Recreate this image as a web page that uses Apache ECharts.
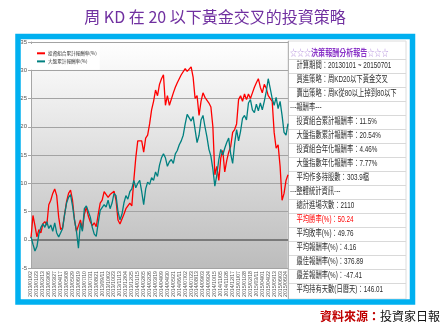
<!DOCTYPE html>
<html>
<head>
<meta charset="utf-8">
<script src="https://cdn.jsdelivr.net/npm/echarts@6/dist/echarts.min.js"></script>
<style>
html, body { margin: 0; padding: 0; background: #ffffff; }
#chart { width: 447px; height: 335px; }
</style>
</head>
<body>
<div id="chart"></div>
<script>
// Weekly sample dates (Wednesdays) of the back-test period
const dates = [
  '2013/01/02','2013/01/09','2013/01/16','2013/01/23','2013/01/30',
  '2013/02/06','2013/02/13','2013/02/20','2013/02/27',
  '2013/03/06','2013/03/13','2013/03/20','2013/03/27',
  '2013/04/03','2013/04/10','2013/04/17','2013/04/24',
  '2013/05/01','2013/05/08','2013/05/15','2013/05/22','2013/05/29',
  '2013/06/05','2013/06/12','2013/06/19','2013/06/26',
  '2013/07/03','2013/07/10','2013/07/17','2013/07/24','2013/07/31',
  '2013/08/07','2013/08/14','2013/08/21','2013/08/28',
  '2013/09/04','2013/09/11','2013/09/18','2013/09/25',
  '2013/10/02','2013/10/09','2013/10/16','2013/10/23','2013/10/30',
  '2013/11/06','2013/11/13','2013/11/20','2013/11/27',
  '2013/12/04','2013/12/11','2013/12/18','2013/12/25',
  '2014/01/02','2014/01/08','2014/01/15','2014/01/22','2014/01/29',
  '2014/02/05','2014/02/12','2014/02/19','2014/02/26',
  '2014/03/05','2014/03/12','2014/03/19','2014/03/26',
  '2014/04/02','2014/04/09','2014/04/16','2014/04/23','2014/04/30',
  '2014/05/07','2014/05/14','2014/05/21','2014/05/28',
  '2014/06/04','2014/06/11','2014/06/18','2014/06/25',
  '2014/07/02','2014/07/09','2014/07/16','2014/07/23','2014/07/30',
  '2014/08/06','2014/08/13','2014/08/20','2014/08/27',
  '2014/09/03','2014/09/10','2014/09/17','2014/09/24',
  '2014/10/01','2014/10/08','2014/10/15','2014/10/22','2014/10/29',
  '2014/11/05','2014/11/12','2014/11/19','2014/11/26',
  '2014/12/03','2014/12/10','2014/12/17','2014/12/24','2014/12/31',
  '2015/01/07','2015/01/14','2015/01/21','2015/01/28',
  '2015/02/04','2015/02/11','2015/02/18','2015/02/25',
  '2015/03/04','2015/03/11','2015/03/18','2015/03/25',
  '2015/04/01','2015/04/08','2015/04/15','2015/04/22','2015/04/29',
  '2015/05/06','2015/05/13','2015/05/20','2015/05/27',
  '2015/06/03','2015/06/10','2015/06/17','2015/06/24',
  '2015/07/01'
];

// Cumulative return of the strategy portfolio (%)
const portfolioReturn = [
  0.3, 4.3, 2.5, 0.5, 1.8, 1.2, 2.8, 3.2, 2.6, 6.2,
  7.0, 8.2, 9.0, 7.8, 4.0, 1.8, 2.2, 4.5, 6.8, 8.2,
  8.8, 7.0, 3.5, 1.5, 2.5, 3.5, 1.8, 4.5, 5.8, 4.2,
  3.2, 2.5, 3.0, 2.3, 4.5, 6.5, 7.0, 8.5, 8.8, 7.5,
  8.0, 7.8, 8.6, 7.0, 3.5, 2.8, 2.5, 4.5, 5.5, 5.8,
  6.5, 6.0, 10.5, 14.5, 17.5, 17.8, 17.5, 15.5, 18.0, 18.5,
  20.5, 23.0, 24.5, 26.5, 25.5, 27.5, 28.5, 29.2, 23.8, 25.5,
  23.8, 24.0, 26.0, 27.0, 27.8, 28.5, 29.2, 29.0, 30.3, 29.8,
  30.2, 30.6, 28.8, 25.0, 25.5, 22.0, 24.5, 26.0, 25.2, 25.5,
  24.2, 23.5, 20.0, 11.5, 13.0, 10.5, 14.5, 15.8, 12.0, 14.0,
  15.5, 16.5, 19.0, 19.5, 20.5, 24.8, 25.5, 24.5, 25.8, 24.8,
  25.8, 25.0, 26.0, 27.0, 27.8, 28.5, 27.0, 26.0, 27.5, 26.8,
  25.5, 25.8, 24.5, 19.0, 16.2, 16.8, 13.0, 7.0, 8.2, 10.5,
  11.5
];

// Cumulative return of the market index (%)
const marketReturn = [
  0.5, -0.8, -2.0, -1.2, 1.0, 2.2, 2.8, 2.2, 3.2, 2.0,
  2.6, 1.5, 3.0, 1.2, 0.5, 0.2, 2.0, 4.5, 6.5, 7.5,
  8.0, 6.0, 3.5, 1.5, -1.5, 3.0, 1.5, 5.5, 6.0, 5.0,
  4.0, 2.2, 1.0, 0.6, 3.0, 5.2, 5.5, 6.2, 5.8, 7.0,
  5.5, 6.5, 8.2, 7.8, 5.0, 3.5, 4.5, 6.5, 7.8, 7.2,
  8.5, 9.0, 10.5, 9.2, 10.0, 10.5, 8.5, 6.2, 9.0, 10.2,
  9.8, 11.0, 10.5, 12.0, 11.2, 13.2, 14.5, 15.2, 14.5, 13.0,
  13.8, 14.2, 13.5, 15.2, 15.8, 16.8, 17.5, 18.5, 20.5, 22.2,
  22.5, 21.0, 21.8, 19.5, 17.2, 18.5, 21.2, 22.0, 20.0, 18.2,
  16.0, 14.8, 12.5, 9.5, 11.5, 14.2, 16.0, 15.0, 16.2, 17.2,
  18.0, 15.2, 13.5, 17.0, 19.5, 17.5, 19.2, 21.5, 22.0, 21.2,
  24.2, 24.8, 23.0, 22.5, 24.0, 22.8, 24.2, 23.0, 24.5, 26.2,
  28.5, 26.8, 25.0, 23.8, 25.2, 23.2, 24.5, 22.0, 19.0, 18.5,
  20.54
];

// Value-axis range and step
const yMin = -5;
const yMax = 35;
const yStep = 5;

const seriesNames = ['投資組合累計報酬率(%)', '大盤累計報酬率(%)'];
const titleText = '周 KD 在 20 以下黃金交叉的投資策略';
const reportStars = '☆☆☆';
const reportHeading = '決策報酬分析報告';
const reportRows = [
  '計算期間：20130101 ~ 20150701',
  '買進策略：周KD20以下黃金交叉',
  '賣出策略：周K從80以上掉到80以下',
  '---報酬率---',
  '投資組合累計報酬率：11.5%',
  '大盤指數累計報酬率：20.54%',
  '投資組合年化報酬率：4.46%',
  '大盤指數年化報酬率：7.77%',
  '平均作多持股數：303.9檔',
  '---整體統計資訊---',
  '總計進場次數：2110',
  '平均勝率(%)：50.24',
  '平均敗率(%)：49.76',
  '平均報酬率(%)：4.16',
  '最佳報酬率(%)：376.89',
  '最差報酬率(%)：-47.41',
  '平均持有天數(日曆天)：146.01'
];
const sourceLabel = '資料來源：';
const sourceName = '投資家日報';

const chart = echarts.init(document.getElementById('chart'), null, { renderer: 'canvas' });

const panelFont = '"Liberation Sans", "Noto Sans CJK TC", sans-serif';
const cjkFont = '"Noto Sans CJK TC", sans-serif';

// Report panel: rows, separators and borders
const graphics = [];
graphics.push({
  type: 'rect', silent: true, z: 0,
  shape: { x: 288, y: 41, width: 118, height: 258 },
  style: { fill: '#ffffff', stroke: '#dcdcdc', lineWidth: 1 }
});
graphics.push({
  type: 'line', silent: true, z: 1,
  shape: { x1: 288.5, y1: 41, x2: 288.5, y2: 299 },
  style: { stroke: '#b5b5b5', lineWidth: 1 }
});
for (let k = 0; k <= reportRows.length - 1; k++) {
  const yy = Math.round(59 + 14 * k) + 0.5;
  graphics.push({
    type: 'line', silent: true, z: 1,
    shape: { x1: 289, y1: yy, x2: 406, y2: yy },
    style: { stroke: '#d9d9d9', lineWidth: 1 }
  });
}
graphics.push({
  type: 'text', silent: true, z: 2,
  x: 290, y: 52, scaleX: 0.74,
  style: {
    text: '{s|' + reportStars + '}{h|' + reportHeading + '}{s|' + reportStars + '}',
    verticalAlign: 'middle', align: 'left',
    rich: {
      s: { fill: '#b48fdc', fontSize: 9.5, fontFamily: cjkFont },
      h: { fill: '#8a34c8', fontSize: 9.5, fontFamily: cjkFont, fontWeight: 'bold' }
    }
  }
});
reportRows.forEach(function (row, i) {
  const isSection = row.indexOf('---') === 0;
  graphics.push({
    type: 'text', silent: true, z: 2,
    x: isSection ? 290 : 296.5, y: 66 + 14 * i, scaleX: 0.7,
    style: {
      text: row,
      fill: row.indexOf('平均勝率') === 0 ? '#ff0000' : '#2b2b2b',
      fontSize: 9, fontFamily: panelFont,
      verticalAlign: 'middle', align: 'left'
    }
  });
});

// Heading, outer frame and source note
graphics.push({
  type: 'text', silent: true, z: 2,
  x: 215, y: 17,
  style: {
    text: titleText, fill: '#7030a0', fontSize: 16, fontFamily: cjkFont,
    align: 'center', verticalAlign: 'middle'
  }
});
graphics.push({
  type: 'rect', silent: true, z: 3,
  shape: { x: 18, y: 36.5, width: 394.5, height: 265.5 },
  style: { fill: 'none', stroke: '#00b0f0', lineWidth: 5.5 }
});
graphics.push({
  type: 'text', silent: true, z: 2,
  x: 320, y: 316,
  style: {
    text: '{a|' + sourceLabel + '}{b|' + sourceName + '}',
    verticalAlign: 'middle', align: 'left',
    rich: {
      a: { fill: '#c00000', fontSize: 12, fontWeight: 'bold', fontFamily: cjkFont },
      b: { fill: '#111111', fontSize: 12, fontFamily: cjkFont }
    }
  }
});

const option = {
  animation: false,
  backgroundColor: '#ffffff',
  grid: {
    left: 31, top: 42, width: 257, height: 226,
    show: true, borderWidth: 0,
    backgroundColor: {
      type: 'linear', x: 0, y: 0, x2: 0, y2: 1,
      colorStops: [
        { offset: 0, color: '#ffffff' },
        { offset: 0.5, color: '#dedede' },
        { offset: 1, color: '#bcbcbc' }
      ]
    }
  },
  legend: {
    left: 31, top: 44,
    orient: 'vertical',
    backgroundColor: '#ffffff',
    padding: [7, 3, 6, 6],
    itemGap: 3.5,
    itemWidth: 8, itemHeight: 2,
    icon: 'rect',
    selectedMode: false,
    textStyle: { fontSize: 4.6, color: '#333333', fontFamily: cjkFont, padding: [0, 0, 0, -2] },
    data: seriesNames
  },
  xAxis: {
    type: 'category',
    data: dates,
    boundaryGap: false,
    axisLine: { show: false },
    axisTick: { show: false },
    splitLine: { show: false },
    axisLabel: {
      interval: 2, rotate: 90, margin: 3,
      fontSize: 5.2, color: '#555555', fontFamily: '"Liberation Sans", sans-serif'
    }
  },
  yAxis: {
    type: 'value',
    min: yMin, max: yMax, interval: yStep,
    axisLine: { show: true, lineStyle: { color: '#a6a6a6', width: 1 } },
    axisTick: { show: true, length: 3, lineStyle: { color: '#a6a6a6' } },
    axisLabel: { fontSize: 6, color: '#555555', margin: 4, fontFamily: '"Liberation Sans", sans-serif' },
    splitLine: { show: true, lineStyle: { color: '#a3a3a3', width: 1 } }
  },
  series: [
    {
      name: seriesNames[0],
      type: 'line',
      data: portfolioReturn,
      showSymbol: false,
      z: 3,
      lineStyle: { color: '#ff0000', width: 1.3 },
      itemStyle: { color: '#ff0000' },
      markLine: {
        silent: true, symbol: 'none', z: 1,
        label: { show: false },
        lineStyle: { color: '#7a7a7a', width: 2, type: 'solid' },
        data: [{ yAxis: 0 }]
      }
    },
    {
      name: seriesNames[1],
      type: 'line',
      data: marketReturn,
      showSymbol: false,
      z: 4,
      lineStyle: { color: '#008080', width: 1.3 },
      itemStyle: { color: '#008080' }
    }
  ],
  graphic: { elements: graphics }
};

chart.setOption(option);
</script>
</body>
</html>
